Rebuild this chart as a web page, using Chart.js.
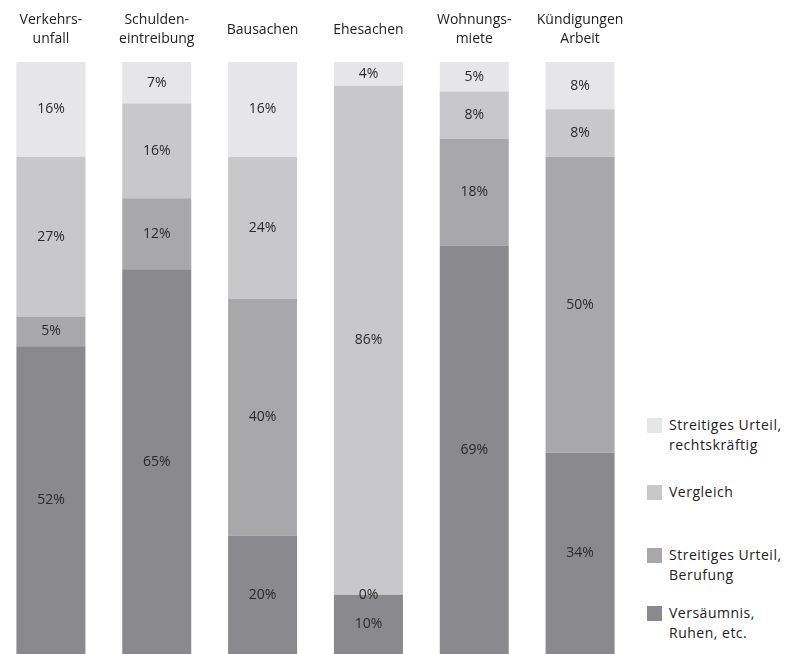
<!DOCTYPE html>
<html>
<head>
<meta charset="utf-8">
<script src="https://cdn.jsdelivr.net/npm/chart.js@4/dist/chart.umd.min.js"></script>
<style>
  body { margin: 0; background: #fff; width: 786px; height: 654px; overflow: hidden; position: relative; font-family: 'Open Sans', sans-serif; }
  #wrap { position: absolute; left: -2px; top: 0; width: 635px; height: 654px; }
  .legend { position: absolute; left: 647px; font-size: 14px; letter-spacing: 0.5px; color: #222; line-height: 20px; }
  .legend .box { position: absolute; left: 0; top: 0; width: 15px; height: 15px; }
  .legend .txt { position: absolute; left: 22px; top: -3px; white-space: nowrap; }
</style>
</head>
<body>
<div id="wrap"><canvas id="chart"></canvas></div>
<div id="legend"></div>
<script>
const categories = [['Verkehrs-', 'unfall'], ['Schulden-', 'eintreibung'], 'Bausachen', 'Ehesachen', ['Wohnungs-', 'miete'], ['Kündigungen', 'Arbeit']];
const seriesNames = [['Versäumnis,', 'Ruhen, etc.'], ['Streitiges Urteil,', 'Berufung'], ['Vergleich'], ['Streitiges Urteil,', 'rechtskräftig']];
const versaeumnis = [52, 65, 20, 10, 69, 34];
const berufung = [5, 12, 40, 0, 18, 50];
const vergleich = [27, 16, 24, 86, 8, 8];
const rechtskraeftig = [16, 7, 16, 4, 5, 8];
const colors = ['#8a8a8e', '#a8a8ab', '#c8c8ca', '#e6e6e8'];

const seriesValues = [versaeumnis, berufung, vergleich, rechtskraeftig];

// percentage text in the middle of each segment
const segmentLabels = {
  id: 'segmentLabels',
  afterDatasetsDraw(chart) {
    const ctx = chart.ctx;
    ctx.save();
    ctx.font = '14px "Open Sans", sans-serif';
    ctx.fillStyle = '#2a2a2a';
    ctx.textAlign = 'center';
    ctx.textBaseline = 'middle';
    chart.data.datasets.forEach((ds, i) => {
      chart.getDatasetMeta(i).data.forEach((bar, j) => {
        const y = (bar.y + bar.base) / 2;
        ctx.fillText(ds.data[j] + '%', bar.x, y);
      });
    });
    ctx.restore();
  }
};

new Chart(document.getElementById('chart'), {
  type: 'bar',
  plugins: [segmentLabels],
  data: {
    labels: categories,
    datasets: seriesValues.map((vals, i) => ({
      label: seriesNames[i].join(' '),
      data: vals,
      backgroundColor: colors[i],
      borderWidth: 0,
      barPercentage: 0.652,
      categoryPercentage: 1
    }))
  },
  options: {
    responsive: true,
    maintainAspectRatio: false,
    animation: false,
    layout: { padding: 0 },
    plugins: {
      legend: { display: false },
      tooltip: { enabled: false }
    },
    scales: {
      x: {
        stacked: true,
        position: 'top',
        grid: { display: false, drawTicks: false },
        border: { display: false },
        afterFit: (s) => {
          s.height = 62;
          s.paddingLeft = 0;
          s.paddingRight = 0;
        },
        ticks: {
          color: '#222',
          font: { family: 'Open Sans', size: 14, lineHeight: 1.35 },
          padding: 23,
          crossAlign: 'center',
          maxRotation: 0,
          autoSkip: false
        }
      },
      y: {
        stacked: true,
        display: false,
        min: 0,
        max: 100
      }
    }
  }
});

// legend on the right, top item first
const legendTops = [418, 485, 548, 606];
const legendEl = document.getElementById('legend');
[3, 2, 1, 0].forEach((s, k) => {
  const item = document.createElement('div');
  item.className = 'legend';
  item.style.top = legendTops[k] + 'px';
  item.innerHTML = '<div class="box" style="background:' + colors[s] + '"></div><div class="txt">' + seriesNames[s].join('<br>') + '</div>';
  legendEl.appendChild(item);
});
</script>
</body>
</html>
